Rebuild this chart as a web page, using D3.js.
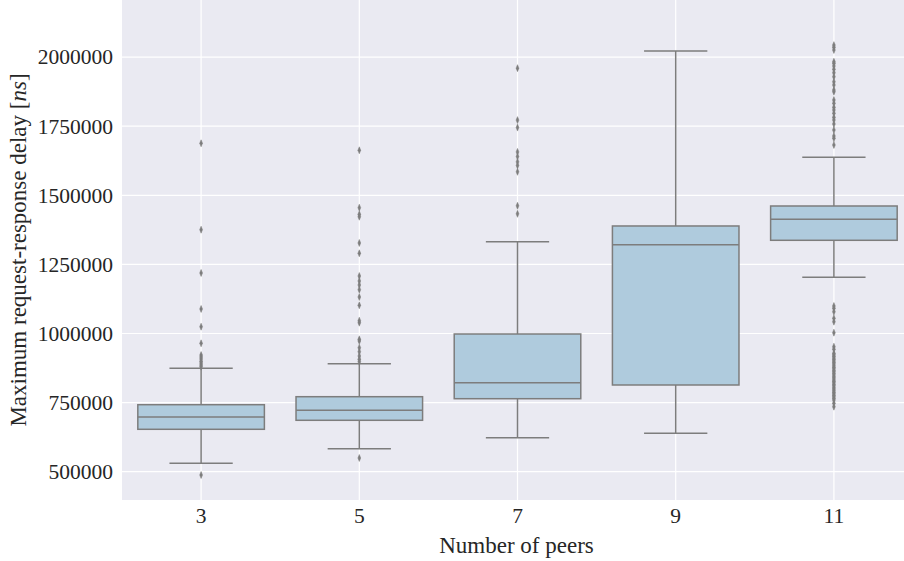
<!DOCTYPE html>
<html><head><meta charset="utf-8">
<script src="https://cdn.jsdelivr.net/npm/d3@7"></script>
<style>body{margin:0;background:#fff}svg{display:block}</style>
</head><body><svg id="c" width="904" height="561"></svg>
<script>
const categories = ["3","5","7","9","11"];
const whiskerLow  = [530400, 583200, 623000, 638900, 1203300];
const q1          = [653400, 686000, 764100, 813700, 1337200];
const medians     = [697900, 722000, 822000, 1321300, 1413200];
const q3          = [742400, 771300, 998200, 1389000, 1461300];
const whiskerHigh = [874100, 890700, 1332100, 2022100, 1637500];
const outliers3 = [488000, 1688200, 1375500, 1218900, 1088700, 1024600, 964500, 922000, 915000, 908000, 900000, 893000, 886000, 880000];
const outliers5 = [549600, 1662800, 1455200, 1431200, 1422500, 1327500, 1290200, 1208000, 1190000, 1175500, 1158500, 1132000, 1102000, 1046400, 1039100, 979000, 973000, 948600, 934200, 918600, 906700, 898000];
const outliers7 = [1960000, 1772000, 1745000, 1657000, 1640000, 1621000, 1608000, 1585000, 1462000, 1433000];
const outliers9 = [];
const outliers11 = [2043400, 2035500, 2025700, 1983400, 1977600, 1967800, 1955900, 1943600, 1929100, 1911000, 1899100, 1881000, 1874800, 1844800, 1832900, 1818400, 1808700, 1796700, 1782200, 1772500, 1758000, 1736300, 1714600, 1706200, 1682000,
  1099500, 1091200, 1078900, 1055000, 1042700, 1002900, 952300, 942800, 928400, 923000, 917500, 911000, 906200, 900400, 894800, 889900, 883100, 877600, 872300, 866000, 861200, 855400, 849800, 843100, 838700, 832200, 826900, 821500, 815300, 810600, 804100, 798800, 793200, 787600, 781900, 776400, 770800, 765300, 759400, 747500, 735200];
const outlierSets = [outliers3, outliers5, outliers7, outliers9, outliers11];
const yTicks = [500000, 750000, 1000000, 1250000, 1500000, 1750000, 2000000];

const svg = d3.select("#c");
const L = 122, R = 913, T = 0, B = 500;
const x = d3.scaleBand().domain(categories).range([L, R]).padding(0);
const y = d3.scaleLinear().domain([397600, 2206600]).range([B, T]);
const font = "'Liberation Serif', 'DejaVu Serif', serif";
const lineCol = "#7d7d7d";
const fs = 23;
const tfs = 21.5;

svg.append("rect").attr("x", L).attr("y", T).attr("width", R - L).attr("height", B - T).attr("fill", "#eaeaf2");

// grid
svg.append("g").selectAll("line").data(yTicks).join("line")
  .attr("x1", L).attr("x2", R).attr("y1", d => y(d)).attr("y2", d => y(d))
  .attr("stroke", "#fff").attr("stroke-width", 1.2);
svg.append("g").selectAll("line").data(categories).join("line")
  .attr("x1", d => x(d) + x.bandwidth() / 2).attr("x2", d => x(d) + x.bandwidth() / 2)
  .attr("y1", T).attr("y2", B).attr("stroke", "#fff").attr("stroke-width", 1.2);

// axes
const yAxis = svg.append("g").attr("transform", `translate(${L},0)`)
  .call(d3.axisLeft(y).tickValues(yTicks).tickSize(0).tickPadding(9).tickFormat(d3.format("d")));
yAxis.select(".domain").remove();
yAxis.selectAll("text").attr("font-family", font).attr("font-size", tfs).attr("fill", "#262626");

const xAxis = svg.append("g").attr("transform", `translate(0,${B})`)
  .call(d3.axisBottom(x).tickSize(0).tickPadding(8));
xAxis.select(".domain").remove();
xAxis.selectAll("text").attr("font-family", font).attr("font-size", tfs).attr("fill", "#262626");

svg.append("text").attr("x", (L + 913) / 2 - 1).attr("y", 553).attr("text-anchor", "middle")
  .attr("font-family", font).attr("font-size", fs).attr("fill", "#262626").text("Number of peers");

const yl = svg.append("text").attr("transform", `translate(26,${(T + B) / 2}) rotate(-90)`)
  .attr("text-anchor", "middle").attr("font-family", font).attr("font-size", fs).attr("fill", "#262626");
yl.append("tspan").text("Maximum request-response delay [");
yl.append("tspan").attr("font-style", "italic").text("ns");
yl.append("tspan").text("]");

// boxes
const bw = x.bandwidth() * 0.8;
const g = svg.append("g");
categories.forEach((c, i) => {
  const cx = x(c) + x.bandwidth() / 2;
  const cap = bw / 2;
  g.append("line").attr("x1", cx).attr("x2", cx).attr("y1", y(whiskerHigh[i])).attr("y2", y(q3[i]))
    .attr("stroke", lineCol).attr("stroke-width", 1.5);
  g.append("line").attr("x1", cx).attr("x2", cx).attr("y1", y(q1[i])).attr("y2", y(whiskerLow[i]))
    .attr("stroke", lineCol).attr("stroke-width", 1.5);
  g.append("line").attr("x1", cx - cap / 2).attr("x2", cx + cap / 2).attr("y1", y(whiskerHigh[i])).attr("y2", y(whiskerHigh[i]))
    .attr("stroke", lineCol).attr("stroke-width", 1.5);
  g.append("line").attr("x1", cx - cap / 2).attr("x2", cx + cap / 2).attr("y1", y(whiskerLow[i])).attr("y2", y(whiskerLow[i]))
    .attr("stroke", lineCol).attr("stroke-width", 1.5);
  g.append("rect").attr("x", cx - bw / 2).attr("width", bw).attr("y", y(q3[i])).attr("height", y(q1[i]) - y(q3[i]))
    .attr("fill", "#afcbdd").attr("stroke", lineCol).attr("stroke-width", 1.5);
  g.append("line").attr("x1", cx - bw / 2).attr("x2", cx + bw / 2).attr("y1", y(medians[i])).attr("y2", y(medians[i]))
    .attr("stroke", lineCol).attr("stroke-width", 1.5);
  g.append("g").selectAll("path").data(outlierSets[i]).join("path")
    .attr("d", d3.symbol().type(d3.symbolDiamond).size(14))
    .attr("transform", d => `translate(${cx},${y(d)}) scale(0.7,1)`)
    .attr("fill", lineCol).attr("stroke", lineCol).attr("stroke-width", 0.6);
});
</script></body></html>
